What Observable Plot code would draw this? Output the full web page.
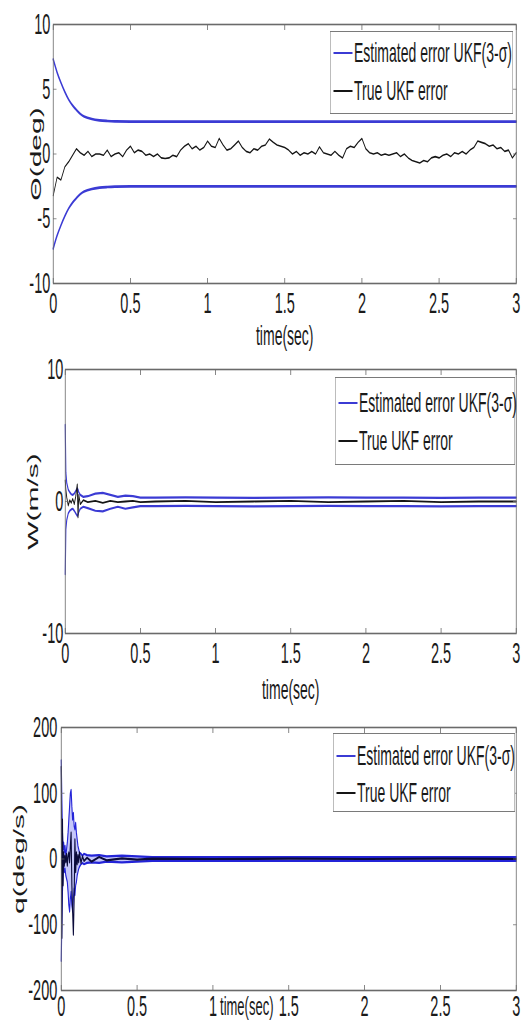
<!DOCTYPE html>
<html><head><meta charset="utf-8">
<script src="https://cdn.jsdelivr.net/npm/d3@7"></script>
<script src="https://cdn.jsdelivr.net/npm/@observablehq/plot@0.6"></script>
<style>
html,body{margin:0;padding:0;background:#fff;overflow:hidden;width:524px;height:1022px}
#stage{position:absolute;left:0;top:0;width:1048px;height:1022px;transform:scale(0.5,1);transform-origin:0 0;font-family:"Liberation Sans",Arial,sans-serif;color:#1a1a1a}
.panel{position:absolute;left:0}
.legend{position:absolute;background:#fff;border:1.5px solid #7a7a7a;box-sizing:border-box}
.legend .row{position:absolute;left:6px;height:30px;display:flex;align-items:center;white-space:nowrap;font-size:28px;line-height:1}
.legend .sw{width:38px;height:0;border-top:2.5px solid;margin-right:3px}
</style></head><body><div id="stage"></div><script>
// ---------- data ----------
const xTicks = [0, 0.5, 1, 1.5, 2, 2.5, 3];
const xTickLabels = ["0", "0.5", "1", "1.5", "2", "2.5", "3"];
const thetaYTicks = [-10, -5, 0, 5, 10];
const wYTicks = [-10, 0, 10];
const qYTicks = [-200, -100, 0, 100, 200];
const yLabels = ["\u0398(deg)", "W(m/s)", "q(deg/s)"];
const xLabel = "time(sec)";
const legendLabels = ["Estimated error UKF(3-\u03c3)", "True UKF error"];

// Panel 1: theta
const thetaBoundT = [0, 0.025, 0.05, 0.075, 0.1, 0.125, 0.15, 0.175, 0.2, 0.25, 0.3, 0.35, 0.4, 0.5, 1, 1.5, 2, 2.5, 3];
const thetaUpper = [7.3, 6.3, 5.5, 4.8, 4.2, 3.75, 3.4, 3.1, 2.9, 2.7, 2.6, 2.55, 2.52, 2.5, 2.5, 2.5, 2.5, 2.5, 2.5];
const thetaLower = [-7.3, -6.3, -5.5, -4.8, -4.2, -3.75, -3.4, -3.1, -2.9, -2.7, -2.6, -2.55, -2.52, -2.5, -2.5, -2.5, -2.5, -2.5, -2.5];
const thetaTrueStep = 0.025;
const thetaTrue = [
 -3.2, -1.8, -2.0, -1.0, -0.6, -0.1, 0.4, 0.1, -0.1, 0.2,
 -0.2, 0.0, 0.0, -0.1, 0.3, -0.2, 0.0, 0.1, -0.2, 0.3,
 0.6, 0.1, 0.3, 0.2, -0.1, 0.0, -0.2, 0.0, -0.3, -0.35,
 -0.3, -0.1, -0.2, 0.3, 0.6, 0.8, 0.4, 0.6, 0.3, 0.5,
 1.0, 0.6, 0.5, 1.2, 0.7, 0.3, 0.4, 0.7, 1.0, 0.5,
 0.2, 0.1, 0.4, 0.3, 0.6, 0.7, 1.15, 0.9, 0.7, 0.6,
 0.5, 0.3, 0.0, 0.2, -0.1, 0.1, 0.0, 0.2, 0.0, 0.55,
 0.1, 0.0, -0.1, 0.2, -0.1, -0.3, 0.4, 0.6, 0.5, 0.9,
 1.2, 0.4, 0.1, 0.0, 0.1, -0.1, 0.0, -0.1, 0.0, 0.1,
 -0.2, 0.0, -0.3, -0.5, -0.6, -0.7, -0.5, -0.6, -0.3, -0.2,
 -0.3, -0.1, 0.0, -0.2, 0.1, 0.0, 0.2, 0.0, 0.3, 0.5,
 1.0, 0.9, 0.8, 0.6, 0.7, 0.4, 0.5, 0.2, 0.3, -0.3,
 0.1
];

// Panel 2: W
const wT = [0, 0.004, 0.01, 0.02, 0.03, 0.04, 0.05, 0.06, 0.07, 0.08, 0.085, 0.09, 0.1, 0.12, 0.15, 0.2, 0.25, 0.3, 0.35, 0.4, 0.45, 0.5, 0.6, 0.8, 1.0, 1.25, 1.5, 1.75, 2.0, 2.25, 2.5, 2.75, 3.0];
const wUpper = [5.8, 2.2, 1.4, 0.9, 0.7, 0.55, 0.5, 0.6, 0.8, 1.0, 0.9, 0.7, 0.5, 0.35, 0.4, 0.6, 0.65, 0.5, 0.35, 0.45, 0.4, 0.3, 0.3, 0.32, 0.3, 0.28, 0.3, 0.32, 0.3, 0.3, 0.28, 0.3, 0.3];
const wLower = [-5.5, -2.1, -1.4, -0.9, -0.7, -0.6, -0.55, -0.7, -0.9, -1.1, -1.0, -0.8, -0.55, -0.4, -0.5, -0.7, -0.75, -0.55, -0.4, -0.55, -0.45, -0.35, -0.35, -0.33, -0.35, -0.37, -0.35, -0.33, -0.35, -0.35, -0.37, -0.35, -0.35];
const wTrue = [1.6, 0.9, 0.3, -0.3, 0.1, -0.1, 0.2, -0.2, 0.4, 1.3, -1.2, 0.5, -0.2, 0.1, -0.05, 0.05, -0.1, 0.05, -0.05, 0.0, 0.05, -0.05, 0.0, 0.05, -0.05, 0.0, 0.05, -0.05, 0.0, 0.05, -0.05, 0.0, 0.0];

// Panel 3: q
const qT = [0, 0.004, 0.008, 0.012, 0.016, 0.02, 0.025, 0.03, 0.035, 0.04, 0.045, 0.05, 0.055, 0.06, 0.065, 0.07, 0.075, 0.08, 0.085, 0.09, 0.095, 0.1, 0.105, 0.11, 0.115, 0.12, 0.13, 0.14, 0.15, 0.17, 0.2, 0.25, 0.3, 0.4, 0.5, 0.6, 1.0, 1.5, 2.0, 2.5, 3.0];
const qUpper = [150, 90, 40, 15, 25, 10, 20, 5, 15, 25, 40, 60, 80, 100, 105, 80, 60, 70, 50, 45, 55, 40, 30, 20, 15, 10, 8, 5, 8, 6, 5, 6, 4, 5, 4, 3, 3, 3, 3, 3, 3];
const qLower = [-155, -95, -50, -20, -10, -20, -15, -25, -30, -35, -50, -70, -80, -60, -50, -70, -80, -60, -45, -55, -40, -35, -25, -20, -15, -12, -8, -6, -8, -6, -5, -6, -4, -5, -4, -3, -3, -3, -3, -3, -3];
const qTrue = [140, -120, 60, -40, 10, -10, 5, -5, 8, -10, 5, 10, -5, 20, 40, -40, -80, -115, -60, 30, -20, 10, -8, 6, -5, 10, -6, 4, -3, 2, -4, 3, -2, 1, -1, 0.5, 0, 0.5, 0, 0.5, 0];

// ---------- build ----------
const rows = (t, ...cols) => t.map((x, i) => ({t: x, a: cols[0][i], b: cols[1] ? cols[1][i] : undefined, c: cols[2] ? cols[2][i] : undefined}));
const thetaBounds = rows(thetaBoundT, thetaUpper, thetaLower);
const thetaTrueRows = thetaTrue.map((v, i) => ({t: +(i * thetaTrueStep).toFixed(3), v}));
const wRows = rows(wT, wUpper, wLower, wTrue);
const qRows = rows(qT, qUpper, qLower, qTrue);

const BLUE = "#3b3bd4", BLACK = "#151515", FRAME = "#6a6a6a";
const fmtX = d => xTickLabels[xTicks.indexOf(d)];

const panels = [
  {top: 0, height: 350, mL: 106, mT: 24, mB: 67, dom: [-10, 10], yt: thetaYTicks, padX: 9, padY: 6,
   xlDy: 42, xlDx: 0, xlFs: 28, ylDx: -34, legend: {left: 660, top: 31, w: 366, h: 83, r: [6, 44]},
   marks: () => [
     Plot.line(thetaBounds, {x: "t", y: "a", stroke: BLUE, strokeWidth: 2.6, curve: "catmull-rom"}),
     Plot.line(thetaBounds, {x: "t", y: "b", stroke: BLUE, strokeWidth: 2.6, curve: "catmull-rom"}),
     Plot.line(thetaTrueRows, {x: "t", y: "v", stroke: BLACK, strokeWidth: 1.6})
   ]},
  {top: 350, height: 355, mL: 130, mT: 19, mB: 72, dom: [-10, 10], yt: wYTicks, padX: 9, padY: 4,
   xlDy: 46, xlDx: 0, xlFs: 28, ylDx: -64, legend: {left: 670, top: 377, w: 360, h: 88, r: [10, 48]},
   marks: () => [
     Plot.line(wRows, {x: "t", y: "a", stroke: BLUE, strokeWidth: 2.2}),
     Plot.line(wRows, {x: "t", y: "b", stroke: BLUE, strokeWidth: 2.2}),
     Plot.line(wRows, {x: "t", y: "c", stroke: BLACK, strokeWidth: 1.8})
   ]},
  {top: 705, height: 317, mL: 122, mT: 22, mB: 32, dom: [-200, 200], yt: qYTicks, padX: 5, padY: 8,
   xlDy: 6, xlDx: -84, xlFs: 26, ylDx: -85, legend: {left: 666, top: 733, w: 364, h: 79, r: [7, 44]},
   marks: () => [
     Plot.areaY(qRows, {x: "t", y1: "b", y2: "a", fill: "#6f74f0", fillOpacity: 0.4}),
     Plot.line(qRows, {x: "t", y: "a", stroke: "#2424d8", strokeWidth: 2.2}),
     Plot.line(qRows, {x: "t", y: "b", stroke: "#2424d8", strokeWidth: 2.2}),
     Plot.line(qRows, {x: "t", y: "c", stroke: "#0b0b3a", strokeWidth: 2.2})
   ]}
];

const stage = document.getElementById("stage");
panels.forEach((p, k) => {
  const svg = Plot.plot({
    width: 1048, height: p.height,
    marginLeft: p.mL, marginRight: 16, marginTop: p.mT, marginBottom: p.mB,
    x: {domain: [0, 3]},
    y: {domain: p.dom},
    style: {fontFamily: '"Liberation Sans", Arial, sans-serif', background: "transparent", color: "#1a1a1a", overflow: "visible"},
    marks: [
      ...p.marks(),
      Plot.frame({stroke: FRAME, strokeWidth: 1.6}),
      Plot.axisX(xTicks, {anchor: "bottom", tickSize: -5, fill: "none", stroke: FRAME, strokeWidth: 1.6}),
      Plot.axisX(xTicks, {anchor: "top", tickSize: -5, fill: "none", stroke: FRAME, strokeWidth: 1.6}),
      Plot.axisY(p.yt, {anchor: "left", tickSize: -7, fill: "none", stroke: FRAME}),
      Plot.axisY(p.yt, {anchor: "right", tickSize: -7, fill: "none", stroke: FRAME}),
      Plot.axisX(xTicks, {anchor: "bottom", tickSize: 0, tickPadding: p.padX, tickFormat: fmtX, fontSize: 29, label: null}),
      Plot.axisY(p.yt, {anchor: "left", tickSize: 0, tickPadding: p.padY, tickFormat: d => String(d), fontSize: 29, label: null}),
      Plot.text([xLabel], {frameAnchor: "bottom", text: d => d, lineAnchor: "top", dy: p.xlDy, dx: p.xlDx, fontSize: p.xlFs}),
      Plot.text([yLabels[k]], {frameAnchor: "left", text: d => d, rotate: -90, dx: p.ylDx, lineAnchor: "middle", textAnchor: "middle", fontSize: 30})
    ]
  });
  svg.classList.add("panel");
  svg.style.top = p.top + "px";
  stage.appendChild(svg);

  const lg = document.createElement("div");
  lg.className = "legend";
  Object.assign(lg.style, {left: p.legend.left + "px", top: p.legend.top + "px", width: p.legend.w + "px", height: p.legend.h + "px"});
  legendLabels.forEach((lab, j) => {
    const row = document.createElement("div");
    row.className = "row";
    row.style.top = p.legend.r[j] + "px";
    const sw = document.createElement("span");
    sw.className = "sw";
    sw.style.borderTopColor = j === 0 ? BLUE : BLACK;
    const tx = document.createElement("span");
    tx.textContent = lab;
    row.appendChild(sw); row.appendChild(tx);
    lg.appendChild(row);
  });
  stage.appendChild(lg);
});
</script></body></html>
